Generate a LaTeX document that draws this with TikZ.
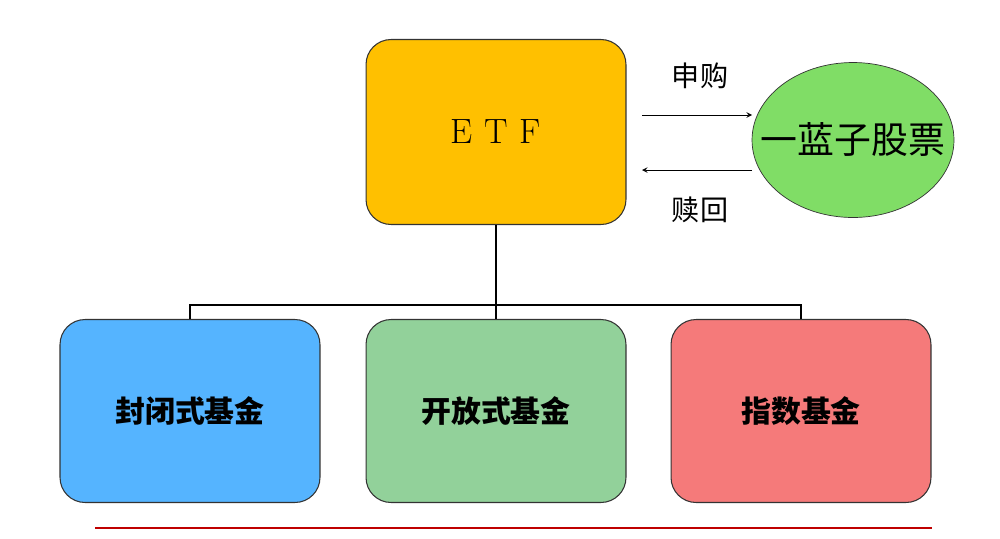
\documentclass[tikz,border=0pt]{standalone}
\usepackage{fontspec}
\newfontfamily\cjk{Noto Sans CJK SC}
\usetikzlibrary{positioning,shapes.geometric}
\definecolor{etfyellow}{HTML}{FFC000}
\definecolor{blueboxc}{HTML}{55B4FF}
\definecolor{greenboxc}{HTML}{92D19A}
\definecolor{redboxc}{HTML}{F57A7A}
\definecolor{ellgreen}{HTML}{80DD66}
\tikzset{%
  fundbox/.style={rectangle,rounded corners=5mm,draw=black!80,line width=0.6pt,
    minimum width=5.2cm,minimum height=3.66cm,font=\cjk\bfseries\fontsize{17}{20}\selectfont},
  flowlabel/.style={font=\cjk\fontsize{16}{19}\selectfont}
}
\begin{document}
\begin{tikzpicture}[x=0.02cm,y=-0.02cm]
    \useasboundingbox (0,0) rectangle (1000,538);
    \node [fundbox,fill=etfyellow,minimum height=3.7cm,font=\fontsize{20}{24}\selectfont] (etf) at (496,132) {E\,\,T\,\,F};
    \node [ellipse,draw=black!80,fill=ellgreen,minimum width=4.04cm,minimum height=3.1cm,inner sep=0pt] (stocks) at (853,140) {};
    \node [font=\cjk\fontsize{21}{25}\selectfont,inner sep=0pt] (stocksText) at (stocks.center) {一蓝子股票};
    \node [fundbox,fill=blueboxc] (closed) at (190,411) {封闭式基金};
    \node [fundbox,fill=greenboxc] (open) at (496,411) {开放式基金};
    \node [fundbox,fill=redboxc] (index) at (801,411) {指数基金};

    \coordinate (buyA) at (642,115); \coordinate (buyB) at (752,115);
    \coordinate (sellA) at (752,170); \coordinate (sellB) at (642,170);
    \draw [->,>=stealth] (buyA) -- (buyB);
    \draw [->,>=stealth] (sellA) -- (sellB);
    \node [flowlabel] (buy) at (700,76) {申购};
    \node [flowlabel] (sell) at (700,210) {赎回};

    \coordinate (hub) at (496,305);
    \draw [line width=1pt] (etf.south) -- (hub);
    \draw [line width=1pt] (closed.north) |- (hub) -| (index.north);
    \draw [line width=1pt] (hub) -- (open.north);

    \coordinate (ruleA) at (95,528); \coordinate (ruleB) at (932,528);
    \draw [red!75!black,line width=1pt] (ruleA) -- (ruleB);
\end{tikzpicture}
\end{document}
